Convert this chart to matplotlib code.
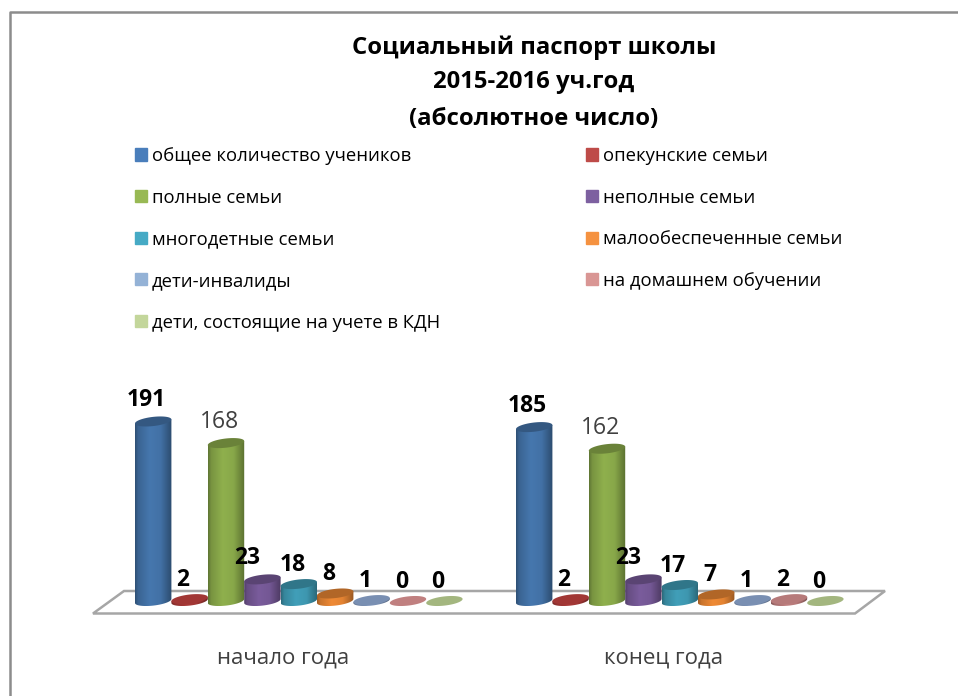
import numpy as np
import matplotlib
matplotlib.use('Agg')
import matplotlib.pyplot as plt
from matplotlib.patches import Patch, PathPatch, Polygon
from matplotlib.path import Path
from matplotlib.colors import to_rgb
from matplotlib.lines import Line2D
from matplotlib.transforms import ScaledTranslation

W, H = 958, 696

# data
periods = ['начало года', 'конец года']
series = ['общее количество учеников', 'опекунские семьи', 'полные семьи', 'неполные семьи',
          'многодетные семьи', 'малообеспеченные семьи', 'дети-инвалиды',
          'на домашнем обучении', 'дети, состоящие на учете в КДН']
start_year = [191, 2, 168, 23, 18, 8, 1, 0, 0]
end_year = [185, 2, 162, 23, 17, 7, 1, 2, 0]
colors = ['#4a7ebb', '#be4b48', '#98b954', '#7d60a0', '#46aac5', '#f59240', '#94b2d6', '#d99694', '#c3d69b']
bar_colors = ['#4677ae', '#a93a38', '#8fb04d', '#7a5c9c', '#419fb9', '#ef8a35', '#7f96bb', '#c08080', '#a3b67f']
# only the green series has a plain label
bold_label = [True, True, False, True, True, True, True, True, True]

plt.rcParams['font.family'] = ['Open Sans', 'DejaVu Sans']

# chart scale in pixels: one category = 381 px, one unit of value = 0.94 px
px_x = 381.0
px_y = 0.94
x0 = 280.6
y0 = 601.0
bar_w = 36.4 / px_x
ell_h = 4.6
ell_tilt = 2.0

fig = plt.figure(figsize=(W / 100, H / 100), dpi=100)
ax = fig.add_axes([0, 0, 1, 1])
ax.set_axis_off()
xlim = (-x0 / px_x, (W - x0) / px_x)
ylim = ((y0 - H) / px_y, y0 / px_y)


def fx(p):
    return p / W


def fy(p):
    return 1 - p / H


def ring(cx, v, t):
    return (cx + bar_w / 2 * np.cos(t),
            v + (ell_h / px_y) * np.sin(t) + (ell_tilt / px_y) * np.cos(t))


def cylinder(cx, v, color):
    rgb = np.array(to_rgb(color))
    ex, ey = ring(cx, v, np.linspace(0, 2 * np.pi, 80))
    if v == 0:
        ax.fill(ex, ey, color=rgb, lw=0, zorder=3)
        return
    # body = lower half of the base ellipse + straight sides up to the top
    lx, ly = ring(cx, 0, np.linspace(np.pi, 2 * np.pi, 40))
    px = np.r_[lx, lx[-1], lx[0]]
    py = np.r_[ly, v + ly[-1], v + ly[0]]
    body = PathPatch(Path(np.c_[px, py]), fc='none', ec='none', transform=ax.transData)
    ax.add_patch(body)
    shade = np.interp(np.linspace(0, 1, 40), [0, 0.08, 0.4, 0.7, 1], [0.68, 0.84, 1.0, 0.95, 0.64])
    grad = np.clip(shade[None, :, None] * rgb[None, None, :], 0, 1)
    im = ax.imshow(grad, extent=(cx - bar_w / 2, cx + bar_w / 2, py.min(), py.max()),
                   aspect='auto', zorder=3, interpolation='bilinear')
    im.set_clip_path(body)
    # very low bars keep nearly their own colour on top
    top = 0.95 if v <= 2 else 0.74
    ax.fill(ex, ey, color=rgb * top, lw=0, zorder=4)


# frame
fig.add_artist(Line2D([fx(9.5), fx(9.5), fx(958)], [fy(696), fy(12), fy(12)], color='#8c8c8c', lw=1.8))

# floor of the chart
floor = [(93, 613.5), (124, 591), (885, 591), (855, 613.5)]
ax.add_patch(Polygon([(fx(a), fy(b)) for a, b in floor], closed=True, fc='white', ec='#a6a6a6',
                     lw=1.8, transform=fig.transFigure, zorder=1))

for c, values in enumerate([start_year, end_year]):
    for i, v in enumerate(values):
        cx = c + (i - 3.5) * bar_w
        cylinder(cx, v, bar_colors[i])
        # labels sit left of the bars, the purple one even more
        dx = -15 if i == 3 else -6.5
        dy = 9 if v > 20 else 7
        ax.text(cx, v, str(v), ha='center', va='bottom', fontsize=16.5,
                fontweight='bold' if bold_label[i] else 'normal',
                color='black' if bold_label[i] else '#404040', zorder=6,
                transform=ax.transData + ScaledTranslation(dx / 100, dy / 100, fig.dpi_scale_trans))
    ax.text(c + 0.006, (y0 - 658) / px_y, periods[c], ha='center', va='center', fontsize=16, color='#404040')

ax.set_xlim(xlim)
ax.set_ylim(ylim)

fig.text(fx(534), fy(47.5), 'Социальный паспорт школы', ha='center', va='center', fontsize=17.2, fontweight='bold')
fig.text(fx(534), fy(82.5), '2015-2016 уч.год', ha='center', va='center', fontsize=17.2, fontweight='bold')
fig.text(fx(534), fy(118.5), '(абсолютное число)', ha='center', va='center', fontsize=17.2, fontweight='bold')

# column-first order of the two legend columns
order = [0, 2, 4, 6, 8, 1, 3, 5, 7]
handles = [Patch(color=colors[i]) for i in order]
labels = [series[i] for i in order]
fig.legend(handles, labels, ncols=2, loc='upper left', bbox_to_anchor=(fx(135), fy(147)),
           frameon=False, fontsize=13.3, labelspacing=1.28, handlelength=0.63, handleheight=0.63,
           handletextpad=0.28, columnspacing=7.9, borderpad=0, borderaxespad=0, labelcolor='black')

fig.savefig('out.png', dpi=100)
